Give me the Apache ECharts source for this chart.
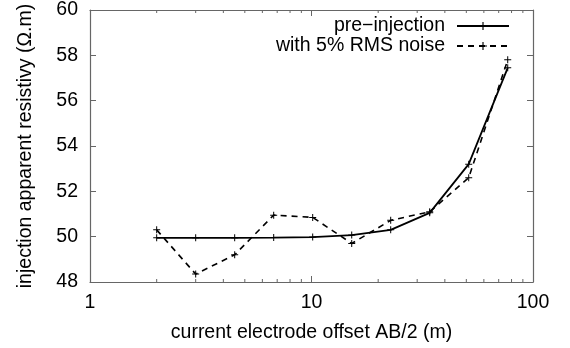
<!DOCTYPE html>
<html><head><meta charset="utf-8">
<script src="https://cdn.jsdelivr.net/npm/echarts@6/dist/echarts.min.js"></script>
<style>html,body{margin:0;padding:0;background:#fff}#c{width:570px;height:348px}</style>
</head><body><div id="c"></div>
<script>
const offsets = [2, 3, 4.5, 6.75, 10.125, 15.19, 22.78, 34.17, 51.26, 76.89];
const preInjection = [49.95, 49.95, 49.95, 49.96, 49.98, 50.07, 50.3, 51.05, 53.2, 57.45];
const withNoise = [50.3, 48.35, 49.2, 50.95, 50.85, 49.7, 50.72, 51.1, 52.6, 57.8];
const minorTicks = [2, 3, 4, 5, 6, 7, 8, 9, 20, 30, 40, 50, 60, 70, 80, 90];
const seriesNames = ['pre\u2212injection', 'with 5% RMS noise'];
const xTitle = 'current electrode offset AB/2 (m)';
const yTitle = 'injection apparent resistivy (\u03A9.m)';

const FONT = 'Liberation Sans';
const FS = 19.5;
const frame = '#666';
const plus = 'path://M0,3 L7,3 L7,4 L0,4 Z M3,0 L4,0 L4,7 L3,7 Z';

const chart = echarts.init(document.getElementById('c'));
chart.setOption({
  animation: false,
  backgroundColor: '#fff',
  textStyle: { fontFamily: FONT },
  grid: { left: 90, right: 37, top: 9, bottom: 66 },
  legend: {
    data: seriesNames,
    orient: 'vertical',
    right: 60, top: 16, padding: 0,
    align: 'right',
    itemWidth: 52, itemHeight: 10, itemGap: 0,
    textStyle: { fontFamily: FONT, fontSize: FS, color: '#000', padding: [0, 7, 0, 0], lineHeight: 19 }
  },
  xAxis: [{
    type: 'log', logBase: 10, min: 1, max: 100,
    name: xTitle, nameLocation: 'middle', nameGap: 41,
    nameTextStyle: { fontFamily: FONT, fontSize: FS, color: '#000' },
    axisLine: { lineStyle: { color: frame, width: 1.2 } },
    axisTick: { inside: true, length: 6, lineStyle: { color: frame } },
    axisLabel: { fontFamily: FONT, fontSize: FS, color: '#000', margin: 11 },
    splitLine: { show: false }
  }, {
    type: 'log', logBase: 10, min: 1, max: 100, position: 'top',
    axisLine: { lineStyle: { color: frame, width: 1.2 } },
    axisTick: { inside: true, length: 6, lineStyle: { color: frame } },
    axisLabel: { show: false }, splitLine: { show: false }
  }],
  yAxis: [{
    type: 'value', min: 48, max: 60, interval: 2,
    name: yTitle, nameLocation: 'middle', nameGap: 54, nameRotate: 90,
    nameTextStyle: { fontFamily: FONT, fontSize: FS, color: '#000' },
    axisLine: { show: true, lineStyle: { color: frame, width: 1.2 } },
    axisTick: { show: true, inside: true, length: 6, lineStyle: { color: frame } },
    axisLabel: { fontFamily: FONT, fontSize: FS, color: '#000', margin: 12 },
    splitLine: { show: false }
  }, {
    type: 'value', min: 48, max: 60, interval: 2, position: 'right',
    axisLine: { show: true, lineStyle: { color: frame, width: 1.2 } },
    axisTick: { show: true, inside: true, length: 6, lineStyle: { color: frame } },
    axisLabel: { show: false }, splitLine: { show: false }
  }],
  series: [{
    type: 'custom', name: 'minor', silent: true,
    data: minorTicks.map(v => [v]),
    encode: { x: 0 },
    renderItem: function (params, api) {
      const b = api.coord([api.value(0), 48]);
      const t = api.coord([api.value(0), 60]);
      const st = { stroke: frame, lineWidth: 1 };
      return { type: 'group', children: [
        { type: 'line', shape: { x1: b[0], y1: b[1], x2: b[0], y2: b[1] - 3 }, style: st },
        { type: 'line', shape: { x1: t[0], y1: t[1], x2: t[0], y2: t[1] + 3 }, style: st }
      ]};
    }
  }, {
    name: seriesNames[1], type: 'line',
    data: offsets.map((x, i) => [x, withNoise[i]]),
    symbol: plus, symbolSize: 7,
    itemStyle: { color: '#000' },
    lineStyle: { color: '#000', width: 1.6, type: [6, 5] }
  }, {
    name: seriesNames[0], type: 'line',
    data: offsets.map((x, i) => [x, preInjection[i]]),
    symbol: plus, symbolSize: 7,
    itemStyle: { color: '#000' },
    lineStyle: { color: '#000', width: 1.8 }
  }]
});
</script></body></html>
